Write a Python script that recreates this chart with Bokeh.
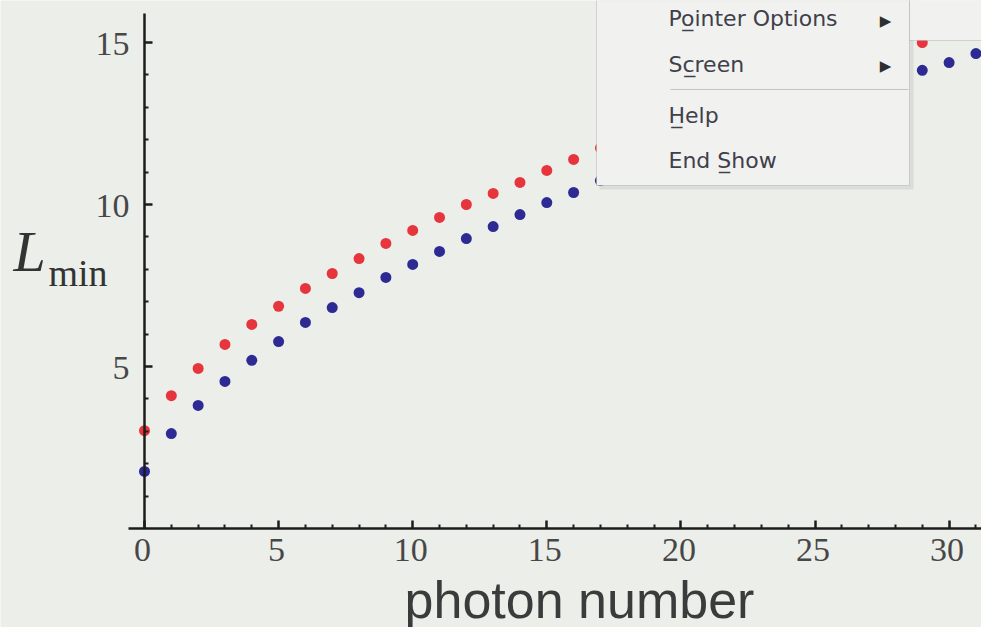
from bokeh.plotting import figure
from bokeh.models import (Range1d, LinearAxis, FixedTicker, Label, BoxAnnotation,
                          CustomJSTickFormatter)
from bokeh.core.properties import value
from bokeh.embed import file_html
from bokeh.resources import INLINE

# minimal length L_min against photon number, two series
photon_n_red = [0, 1, 2, 3, 4, 5, 6, 7, 8, 9, 10, 11, 12, 13, 14, 15, 16, 17, 29]
l_min_red = [3.02, 4.10, 4.94, 5.68, 6.30, 6.86, 7.41, 7.87, 8.33, 8.80, 9.20,
             9.60, 10.00, 10.34, 10.68, 11.05, 11.39, 11.74, 15.00]

photon_n_blue = [0, 1, 2, 3, 4, 5, 6, 7, 8, 9, 10, 11, 12, 13, 14, 15, 16, 17, 29, 30, 31]
l_min_blue = [1.76, 2.93, 3.80, 4.54, 5.19, 5.77, 6.36, 6.82, 7.28, 7.75, 8.15,
              8.55, 8.95, 9.32, 9.69, 10.06, 10.37, 10.74, 14.14, 14.38, 14.66]

x_major_ticks = [0, 5, 10, 15, 20, 25, 30]
x_minor_ticks = [n for n in range(0, 32) if n % 5]
y_major_ticks = [5, 10, 15]
y_minor_ticks = [n for n in range(1, 16) if n % 5]
x_tick_labels = [str(t) for t in x_major_ticks]
y_tick_labels = [str(t) for t in y_major_ticks]

menu_items = ["Po\u0332inter Options", "Sc\u0332reen", "H\u0332elp", "End S\u0332how"]

# canvas geometry (pixels); the plot frame fills the whole canvas
W, H = 981, 627
AXIS_Y_PX = 528          # where L_min = 0 sits
X0_PX = 144              # where photon number = 0 sits
PX_PER_X = 26.82
PX_PER_Y = 32.4


def dx(px):
    return (px - X0_PX) / PX_PER_X


def dy(py):
    return (AXIS_Y_PX - py) / PX_PER_Y


BG = "#ECEEEA"
AXIS = "#1c1c1c"
TICK_TXT = "#474747"
SERIF = "Liberation Serif"

p = figure(width=W, height=H,
           x_range=Range1d(dx(0), dx(W)),
           y_range=Range1d(dy(H), dy(0)),
           x_axis_location=None, y_axis_location=None,
           output_backend="svg", toolbar_location=None,
           min_border_left=0, min_border_right=0,
           min_border_top=0, min_border_bottom=0)
p.background_fill_color = BG
p.border_fill_color = BG
p.outline_line_color = None
p.xgrid.visible = False
p.ygrid.visible = False

blank = CustomJSTickFormatter(code="return ''")


def style_axis(ax):
    ax.axis_line_color = AXIS
    ax.axis_line_width = 2.5
    ax.major_tick_line_color = AXIS
    ax.major_tick_line_width = 2.5
    ax.minor_tick_line_color = AXIS
    ax.minor_tick_line_width = 2
    ax.major_tick_in = 8
    ax.major_tick_out = 0
    ax.minor_tick_in = 4
    ax.minor_tick_out = 0
    # tick numbers are drawn as text glyphs below
    ax.formatter = blank
    ax.major_label_standoff = 0


xaxis = LinearAxis(ticker=FixedTicker(ticks=x_major_ticks, minor_ticks=x_minor_ticks),
                   fixed_location=0, bounds=(dx(128), dx(W)))
style_axis(xaxis)
p.add_layout(xaxis, "below")

yaxis = LinearAxis(ticker=FixedTicker(ticks=y_major_ticks, minor_ticks=y_minor_ticks),
                   fixed_location=0, bounds=(0, 15.9))
style_axis(yaxis)
p.add_layout(yaxis, "left")

# tick numbers
p.text(x=x_major_ticks, y=[0] * len(x_major_ticks), text=x_tick_labels,
       x_offset=-2, y_offset=21, text_align="center", text_baseline="alphabetic",
       text_font=value(SERIF), text_font_size=value("34px"), text_color=TICK_TXT)
p.text(x=[0] * len(y_major_ticks), y=y_major_ticks, text=y_tick_labels,
       x_offset=-15, y_offset=1, text_align="right", text_baseline="alphabetic",
       text_font=value(SERIF), text_font_size=value("34px"), text_color=TICK_TXT)

p.scatter(photon_n_red, l_min_red, size=11, color="#E6353D", line_alpha=0)
p.scatter(photon_n_blue, l_min_blue, size=11, color="#2D2A94", line_alpha=0)

# axis titles
p.add_layout(Label(x=dx(579), y=dy(599), text="photon number",
                   text_font="Liberation Sans", text_font_size="52px",
                   text_align="center", text_baseline="alphabetic",
                   text_color="#3b3b3b"))
p.add_layout(Label(x=dx(13), y=dy(251), text="L",
                   text_font=SERIF, text_font_style="italic",
                   text_font_size="58px", text_baseline="alphabetic",
                   text_color="#333333"))
p.add_layout(Label(x=dx(48), y=dy(272), text="min",
                   text_font=SERIF, text_font_size="38px",
                   text_baseline="alphabetic", text_color="#333333"))

# slide-show context menu drawn over the plot
MENU_BG = "#F1F2F0"
p.add_layout(BoxAnnotation(left=dx(599), right=dx(913), bottom=dy(189), top=dy(-5),
                           fill_color="#000000", fill_alpha=0.07, line_alpha=0))
p.add_layout(BoxAnnotation(left=dx(596), right=dx(909), bottom=dy(185), top=dy(-5),
                           fill_color=MENU_BG, fill_alpha=1,
                           line_color="#8c8c8c", line_width=1))
p.add_layout(BoxAnnotation(left=dx(909), right=dx(1000), bottom=dy(40), top=dy(-5),
                           fill_color=MENU_BG, fill_alpha=1,
                           line_color="#8c8c8c", line_width=1))
p.add_layout(BoxAnnotation(left=dx(670), right=dx(908), bottom=dy(89.5), top=dy(88.5),
                           fill_color="#c4c4c4", fill_alpha=1, line_alpha=0))

for text, base in zip(menu_items, [18, 64, 115, 160]):
    p.add_layout(Label(x=dx(668), y=dy(base), text=text,
                       text_font="DejaVu Sans", text_font_size="22px",
                       text_baseline="alphabetic", text_color="#40404a"))
for mid in [20, 65]:
    p.add_layout(Label(x=dx(885), y=dy(mid), text="\u25B6",
                       text_font="DejaVu Sans", text_font_size="15px",
                       text_align="center", text_baseline="middle",
                       text_color="#2e2e2e"))

open("out.html", "w").write(file_html(p, INLINE))
